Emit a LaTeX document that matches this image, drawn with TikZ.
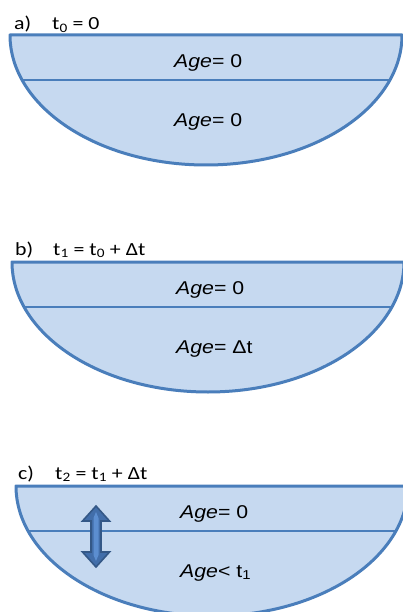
\documentclass[tikz,border=0pt]{standalone}
\usepackage{fontspec}
\newfontfamily\agefont[FakeStretch=1.15]{Liberation Sans}
\newfontfamily\labfont[FakeStretch=1.18]{Carlito}
\definecolor{bowlfill}{RGB}{198,217,240}
\definecolor{bowlline}{RGB}{74,126,187}
\definecolor{arrdark}{RGB}{52,88,135}
\definecolor{arrmid}{RGB}{66,110,170}
\definecolor{arrlight}{RGB}{92,142,208}
\tikzset{
  bowlfillstyle/.style={fill=bowlfill},
  bowledge/.style={draw=bowlline, line width=3pt, line join=round},
  layerline/.style={draw=bowlline, line width=2.6pt},
  agetext/.style={anchor=base west, inner sep=0pt, font=\agefont\fontsize{18.5}{20}\selectfont},
  labtext/.style={anchor=base west, inner sep=0pt, font=\labfont\fontsize{18.5}{20}\selectfont},
  blockarrow/.style={fill=arrmid, draw=arrdark, line width=1.6pt, line join=miter},
  arrowcore/.style={fill=arrlight}
}
\newcommand\mybowl[3]{% #1 left x, #2 top y, #3 layer y
  \path[bowlfillstyle] (#1,#2) -- (#1+392,#2) arc (0:180:196 and 130) -- cycle;
  \begin{scope}
    \clip (#1,#2) -- (#1+392,#2) arc (0:180:196 and 130) -- cycle;
    \draw[layerline] (#1-5,#3) -- (#1+400,#3);
  \end{scope}
  \path[bowledge] (#1,#2) -- (#1+392,#2) arc (0:180:196 and 130) -- cycle;
}
\begin{document}
\begin{tikzpicture}[x=1pt,y=-1pt]
\clip (0,0) rectangle (403,612);
\fill[white] (0,0) rectangle (403,612);

% panel a
\mybowl{10}{35}{80}
\node[labtext] (la) at (14,30) {a)};
\node[labtext] (ta) at (52,30) {t\textsubscript{0} = 0};
\node[agetext] (a1) at (174,68) {\textit{Age}= 0};
\node[agetext] (a2) at (174,127) {\textit{Age}= 0};

% panel b
\mybowl{12}{262}{307}
\node[labtext] (lb) at (15,255) {b)};
\node[labtext] (tb) at (53,255) {t\textsubscript{1} = t\textsubscript{0} + Δt};
\node[agetext] (b1) at (176,294) {\textit{Age}= 0};
\node[agetext] (b2) at (176,353) {\textit{Age}= Δt};

% panel c
\mybowl{16}{486}{531}
\node[labtext] (lc) at (18,479) {c)};
\node[labtext] (tc) at (55,479) {t\textsubscript{2} = t\textsubscript{1} + Δt};
\node[agetext] (c1) at (180,518) {\textit{Age}= 0};
\node[agetext] (c2) at (180,577) {\textit{Age}< t\textsubscript{1}};

% double block arrow
\path[blockarrow] (96,506) -- (82.5,521) -- (91,521) -- (91,552) -- (82.5,552)
  -- (96,567) -- (109.5,552) -- (101,552) -- (101,521) -- (109.5,521) -- cycle;
\path[arrowcore] (96,512) -- (98.5,518) -- (98.5,555) -- (96,561) -- (93.5,555) -- (93.5,518) -- cycle;
\end{tikzpicture}
\end{document}
